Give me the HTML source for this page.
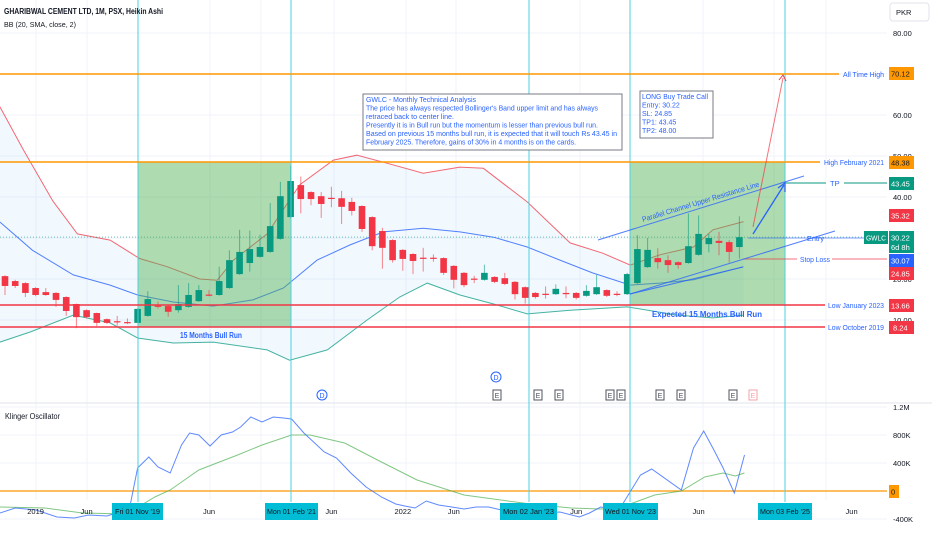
<!DOCTYPE html>
<html><head><meta charset="utf-8"><style>
html,body{margin:0;padding:0;background:#fff;width:932px;height:550px;overflow:hidden;position:relative}
svg{display:block;font-family:"Liberation Sans",sans-serif}
</style></head><body>
<svg id="chart" width="932" height="550" viewBox="0 0 932 550" xmlns="http://www.w3.org/2000/svg">
<g id="grid"></g>
<g id="bands"></g>
<g id="zones">
  <rect x="138" y="162" width="153" height="165" fill="rgba(76,175,80,0.45)" stroke="#4caf50" stroke-width="1"/>
  <rect x="630" y="162" width="155" height="143" fill="rgba(76,175,80,0.45)" stroke="#4caf50" stroke-width="1"/>
</g>
<g id="candles"></g>
<g id="annot"></g>
<g id="osc"></g>
<g id="axes"></g>
</svg>
<script>
// ---- price data (Heikin Ashi monthly, Oct 2018 .. Oct 2024) ----
const haOpen=[20.7,19.5,19.0,17.8,16.8,16.6,15.6,13.9,12.4,11.7,10.2,9.7,9.5,9.3,11.0,13.5,13.4,12.4,13.2,14.6,16.2,16.1,17.8,21.2,23.9,25.4,26.6,29.8,35.1,42.9,41.2,40.2,39.8,39.7,38.8,37.8,35.1,31.7,29.5,27.1,26.1,25.2,25.2,25.1,23.2,21.5,20.1,19.8,20.5,20.2,19.3,18.0,16.6,16.4,16.3,16.6,16.6,15.9,16.3,17.3,16.4,16.3,19.0,22.9,25.1,24.6,24.1,23.9,25.9,28.5,29.3,29.0,27.8];
const haHigh=[20.9,19.8,19.2,18.0,17.8,16.8,15.8,14.0,12.6,11.8,10.4,11.0,10.4,12.9,17.0,14.5,13.6,18.5,19.0,18.5,17.3,23.0,27.0,32.0,31.8,30.8,38.5,43.7,47.6,45.0,41.4,41.2,42.5,41.5,39.8,38.0,35.3,32.5,29.7,27.3,26.3,27.6,26.0,25.3,23.4,21.7,20.8,23.5,20.7,21.5,19.5,18.2,16.8,18.2,18.7,18.2,16.8,18.5,21.0,17.5,17.0,21.5,30.7,30.0,27.5,25.8,24.3,36.0,35.5,31.0,31.5,29.5,35.3];
const haLow=[16.1,17.8,15.6,15.8,15.9,13.2,11.0,8.0,10.4,8.5,9.0,8.6,9.0,9.2,10.8,12.8,10.8,11.8,13.0,14.4,15.8,15.9,17.6,21.0,21.8,25.2,26.4,29.6,34.8,36.0,38.0,34.9,37.5,33.4,35.5,31.5,27.0,22.5,24.0,22.0,21.2,21.8,24.2,21.0,17.7,18.0,19.0,19.6,19.0,18.5,15.0,14.0,15.2,15.2,16.1,15.3,15.0,15.7,16.1,15.6,15.8,16.1,18.8,22.7,22.5,21.5,22.5,23.7,25.7,26.5,25.8,24.0,25.0];
const haClose=[18.3,18.3,16.6,16.1,16.1,14.9,12.2,10.7,10.7,9.3,9.3,9.5,9.3,12.7,15.1,13.3,12.0,13.9,16.1,17.3,16.0,19.5,24.6,26.6,27.3,27.8,32.9,40.2,43.9,39.5,39.5,38.3,39.6,37.6,36.6,32.2,28.0,27.6,24.6,24.9,24.4,25.0,25.0,21.5,19.8,18.5,19.9,21.5,19.3,18.8,16.3,15.4,15.6,16.2,17.6,16.3,15.4,17.1,18.0,15.9,16.2,21.2,27.3,27.1,24.1,23.4,23.4,28.0,31.0,30.0,28.8,26.6,30.2];
// Bollinger bands (month index from Oct 2018, value)
const upperMonths=[-0.5,1.8,4.7,7.1,10.3,13.2,15.9,19.1,20.8,22.4,25.7,28.9,32.2,34.5,37.1,41.0,44.6,46.9,51.2,55.4,58.6,61.3,64.2,67.5,69.4,72.4];
const upperVals=[62,51.5,39,31,29.5,25,23,20,19.7,24.6,31,43,49,50.2,48.5,45.8,47.3,47,38.8,28.8,26.3,23.4,25.9,27.8,32,34];
const midMonths=[-0.5,2.7,6.7,10.3,13.0,16.5,20.4,24.3,27.3,30.6,33.8,37.1,41.0,44.6,47.9,51.2,54.4,57.6,61.3,64.2,67.5,72.4];
const midVals=[33.9,27,21,18.5,16.1,14.4,13.4,14.9,17.8,24.6,28.3,31.5,32.4,31.5,30.2,27.8,24.6,21.5,18.5,19,19.8,23];
const lowerMonths=[-0.5,2.5,6.7,10.3,13.0,16.5,20.4,25.7,27.9,31.6,35.5,38.7,41.4,44.6,47.9,51.2,55.4,61.0,65.9,69.4,72.4];
const lowerVals=[4.6,7.1,11.2,9.3,5.6,4.4,4.6,2.7,0.2,2.7,10,15.6,19,16.1,13.9,11.5,12.4,13.2,11.2,10.5,11.2];
// Klinger oscillator (thousands)
const kloMonths=[-0.5,1,3,5.1,6.8,8.2,10,11.2,12.1,13,14.1,15,16.2,17.3,18.1,19,20.1,21.2,22.3,23.1,24.1,25.2,26.3,27.3,28.1,29.3,31.3,32.5,33.9,35.4,36.9,38.3,39.2,40.2,41.3,42.5,43.8,45,46.2,47.4,49.1,50.9,52.6,54.4,56.3,57.3,58.4,59.6,60.5,62.3,63.4,66.3,67.5,68.5,69.5,70.4,71.5,72.5];
const kloVals=[-314,-243,-270,-371,-386,-343,-357,-300,-329,329,486,343,257,657,829,800,643,800,843,914,1057,986,1057,1043,1029,829,557,471,257,57,-86,-186,-214,-243,-143,-200,-229,-257,-229,-229,-286,-300,-314,-300,-371,-314,-229,-257,-200,229,314,14,614,857,586,329,-29,514];
const sigMonths=[-0.5,3.9,7.6,11.9,14.7,16.2,19,22.8,25.2,28.1,29.9,33.3,36.9,40.4,45,51.5,55.5,58.4,60.2,63.7,66.3,68.6,70.4,71.6,72.5];
const sigVals=[-229,-243,-314,-329,-86,14,300,514,657,800,800,686,414,157,-57,-186,-243,-257,-243,-57,0,200,257,214,257];
// axis labels
const priceTicks=[80,60,50,40,20,10];
const oscTicks=[1200,800,400,-400];
const oscTickLabels=["1.2M","800K","400K","-400K"];
const timeMonths=[3,8,20,32,39,44,56,68,83];
const timeLabels=["2019","Jun","Jun","Jun","2022","Jun","Jun","Jun","Jun"];

const NS="http://www.w3.org/2000/svg";
const X=m=>5+10.2*m;
const PY=p=>361-4.1*p;
const OY=v=>491-0.07*v;
function mk(parent,tag,attrs,text){const e=document.createElementNS(NS,tag);for(const k in attrs)e.setAttribute(k,attrs[k]);if(text!==undefined)e.textContent=text;parent.appendChild(e);return e;}
const G=id=>document.getElementById(id);

// grid
const grid=G('grid');
[36,87,138,210,261,334,406,456,529,580,630,703,774,826].forEach(x=>{const l=mk(grid,'line',{x1:x,y1:0,x2:x,y2:500,stroke:'#f0f3fa','stroke-width':1});

});
priceTicks.concat([30,70]).forEach(p=>{const l=mk(grid,'line',{x1:0,y1:PY(p),x2:887,y2:PY(p),stroke:'#f0f3fa','stroke-width':1});

});
oscTicks.forEach(v=>{const l=mk(grid,'line',{x1:0,y1:OY(v),x2:887,y2:OY(v),stroke:'#f0f3fa','stroke-width':1});

});

// bands
const bands=G('bands');
const pts=(ms,vs,yf)=>ms.map((m,i)=>X(m).toFixed(1)+','+yf(vs[i]).toFixed(1));
const fillPts=pts(upperMonths,upperVals,PY).concat(pts(lowerMonths,lowerVals,PY).reverse());
const fill=mk(bands,'polygon',{points:fillPts.join(' '),fill:'rgba(33,150,243,0.06)'});


const bu=mk(bands,'polyline',{points:pts(upperMonths,upperVals,PY).join(' '),fill:'none',stroke:'#f23645','stroke-width':1,'stroke-opacity':0.75});


const bm=mk(bands,'polyline',{points:pts(midMonths,midVals,PY).join(' '),fill:'none',stroke:'#2962ff','stroke-width':1,'stroke-opacity':0.8});


const bl=mk(bands,'polyline',{points:pts(lowerMonths,lowerVals,PY).join(' '),fill:'none',stroke:'#089981','stroke-width':1,'stroke-opacity':0.75});


const pl=mk(bands,'line',{x1:0,y1:PY(30.22),x2:887,y2:PY(30.22),stroke:'#089981','stroke-width':1,'stroke-dasharray':'1,2','stroke-opacity':0.6});



// candles
const cg=G('candles');
haOpen.forEach((o,i)=>{const c=haClose[i],x=X(i),col=c>=o?'#089981':'#f23645';
 const w=mk(cg,'line',{x1:x,y1:PY(haHigh[i]),x2:x,y2:PY(haLow[i]),stroke:col,'stroke-width':1,'stroke-opacity':0.6});
 
 
 const top=PY(Math.max(o,c)),h=Math.max(1.2,Math.abs(PY(o)-PY(c)));
 const b=mk(cg,'rect',{x:x-3.3,y:top,width:6.6,height:h,fill:col});
 
 
});

// klinger pane
const og=G('osc');
const sep=mk(og,'line',{x1:0,y1:403,x2:932,y2:403,stroke:'#e0e3eb','stroke-width':1});


const zl=mk(og,'line',{x1:0,y1:OY(0),x2:887,y2:OY(0),stroke:'#ff9800','stroke-width':1.2});


const sg=mk(og,'polyline',{points:pts(sigMonths,sigVals,OY).join(' '),fill:'none',stroke:'#4caf50','stroke-width':1,'stroke-opacity':0.7});


const kl=mk(og,'polyline',{points:pts(kloMonths,kloVals,OY).join(' '),fill:'none',stroke:'#2962ff','stroke-width':1,'stroke-opacity':0.75});


const kt=mk(og,'text',{x:5,y:419,'font-size':8,fill:'#131722',textLength:55,lengthAdjust:'spacingAndGlyphs'},'Klinger Oscillator');



// axes
const ax=G('axes');
priceTicks.forEach(p=>{const t=mk(ax,'text',{x:893,y:PY(p)+3,'font-size':7.5,fill:'#131722'},p.toFixed(2));

});
oscTicks.forEach((v,i)=>{const t=mk(ax,'text',{x:893,y:OY(v)+3,'font-size':7.5,fill:'#131722'},oscTickLabels[i]);

});
timeMonths.forEach((m,i)=>{const t=mk(ax,'text',{x:X(m),y:514,'font-size':7.5,fill:'#131722','text-anchor':'middle'},timeLabels[i]);

});
</script>
<svg width="932" height="550" style="position:absolute;left:0;top:0" font-family="Liberation Sans, sans-serif">
  <g stroke="#4dd0e1" stroke-width="1">
    <line x1="138" y1="0" x2="138" y2="502"/>
    <line x1="291" y1="0" x2="291" y2="502"/>
    <line x1="529" y1="0" x2="529" y2="502"/>
    <line x1="630" y1="0" x2="630" y2="502"/>
    <line x1="785" y1="0" x2="785" y2="502"/>
  </g>
  <line x1="0" y1="74" x2="839" y2="74" stroke="#ff9800" stroke-width="1.5"/>
  <text x="843" y="77" font-size="7.5" fill="#2962ff" textLength="41" lengthAdjust="spacingAndGlyphs">All Time High</text>
  <line x1="0" y1="162" x2="820" y2="162" stroke="#ff9800" stroke-width="1.5"/>
  <text x="824" y="165" font-size="7.5" fill="#2962ff" textLength="60" lengthAdjust="spacingAndGlyphs">High February 2021</text>
  <line x1="0" y1="305" x2="825" y2="305" stroke="#f23645" stroke-width="1.5"/>
  <text x="828" y="308" font-size="7.5" fill="#2962ff" textLength="56" lengthAdjust="spacingAndGlyphs">Low January 2023</text>
  <line x1="0" y1="327" x2="825" y2="327" stroke="#f23645" stroke-width="1.5"/>
  <text x="828" y="330" font-size="7.5" fill="#2962ff" textLength="56" lengthAdjust="spacingAndGlyphs">Low October 2019</text>
  <line x1="785" y1="183" x2="887" y2="183" stroke="#089981" stroke-width="1"/>
  <rect x="826" y="178" width="18" height="10" fill="#fff"/>
  <text x="830" y="186" font-size="7.5" fill="#2962ff">TP</text>
  <line x1="748" y1="238" x2="887" y2="238" stroke="#2962ff" stroke-width="1" stroke-opacity="0.6"/>
  <text x="807" y="241" font-size="7.5" fill="#2962ff" textLength="17" lengthAdjust="spacingAndGlyphs">Entry</text>
  <line x1="743" y1="259" x2="887" y2="259" stroke="#f23645" stroke-width="1" stroke-opacity="0.7"/>
  <rect x="797" y="254" width="35" height="10" fill="#fff"/>
  <text x="800" y="262" font-size="7.5" fill="#2962ff" textLength="30" lengthAdjust="spacingAndGlyphs">Stop Loss</text>
  <line x1="598" y1="240" x2="804" y2="176" stroke="#2962ff" stroke-width="1" stroke-opacity="0.8"/>
  <line x1="630" y1="294" x2="835" y2="231" stroke="#2962ff" stroke-width="1" stroke-opacity="0.8"/>
  <line x1="630" y1="294" x2="743" y2="267" stroke="#2962ff" stroke-width="1" stroke-opacity="0.8"/>
  <text x="0" y="0" font-size="7.5" fill="#2962ff" textLength="122" lengthAdjust="spacingAndGlyphs" transform="translate(643,222) rotate(-17)">Parallel Channel Upper Resistance Line</text>
  <line x1="753" y1="227" x2="783" y2="78" stroke="#f23645" stroke-width="1" stroke-opacity="0.7"/>
  <path d="M779,80 L783,75 L786,81" fill="none" stroke="#f23645" stroke-width="1"/>
  <line x1="753" y1="234" x2="784" y2="185" stroke="#2962ff" stroke-width="1.3"/>
  <path d="M778,188 L785,183 L785,192" fill="none" stroke="#2962ff" stroke-width="1.3"/>
  <text x="180" y="338" font-size="8" font-weight="bold" fill="#2962ff" textLength="62" lengthAdjust="spacingAndGlyphs">15 Months Bull Run</text>
  <text x="652" y="317" font-size="8" font-weight="bold" fill="#2962ff" textLength="110" lengthAdjust="spacingAndGlyphs">Expected 15 Months Bull Run</text>
  <g>
    <rect x="363" y="94" width="259" height="56" fill="#fff" stroke="#787b86" stroke-width="1"/>
    <g font-size="7" fill="#2962ff" lengthAdjust="spacingAndGlyphs">
      <text x="366" y="102" textLength="110" lengthAdjust="spacingAndGlyphs">GWLC - Monthly Technical Analysis</text>
      <text x="366" y="110.5" textLength="232" lengthAdjust="spacingAndGlyphs">The price has always respected Bollinger's Band upper limit and has always</text>
      <text x="366" y="119" textLength="88" lengthAdjust="spacingAndGlyphs">retraced back to center line.</text>
      <text x="366" y="127.5" textLength="232" lengthAdjust="spacingAndGlyphs">Presently it is in Bull run but the momentum is lesser than previous bull run.</text>
      <text x="366" y="136" textLength="251" lengthAdjust="spacingAndGlyphs">Based on previous 15 months bull run, it is expected that it will touch Rs 43.45 in</text>
      <text x="366" y="144.5" textLength="210" lengthAdjust="spacingAndGlyphs">February 2025. Therefore, gains of 30% in 4 months is on the cards.</text>
    </g>
  </g>
  <g>
    <rect x="640" y="91" width="73" height="47" fill="#fff" stroke="#787b86" stroke-width="1"/>
    <g font-size="7" fill="#2962ff">
      <text x="642" y="99" textLength="66" lengthAdjust="spacingAndGlyphs">LONG Buy Trade Call</text>
      <text x="642" y="107.5">Entry: 30.22</text>
      <text x="642" y="116">SL: 24.85</text>
      <text x="642" y="124.5">TP1: 43.45</text>
      <text x="642" y="133">TP2: 48.00</text>
    </g>
  </g>
  <text x="4" y="14" font-size="8" font-weight="bold" fill="#131722" textLength="159" lengthAdjust="spacingAndGlyphs">GHARIBWAL CEMENT LTD, 1M, PSX, Heikin Ashi</text>
  <text x="4" y="27" font-size="7.5" fill="#131722" textLength="72" lengthAdjust="spacingAndGlyphs">BB (20, SMA, close, 2)</text>
  <rect x="890" y="3" width="39" height="18" rx="3" fill="#fff" stroke="#e0e3eb"/>
  <text x="896" y="15" font-size="7.5" fill="#131722">PKR</text>
  <g font-size="7" text-anchor="middle">
    <g><circle cx="322" cy="395" r="5" fill="#fff" stroke="#2962ff"/><text x="322" y="398" fill="#2962ff">D</text></g>
    <g><circle cx="496" cy="377" r="5" fill="#fff" stroke="#2962ff"/><text x="496" y="380" fill="#2962ff">D</text></g>
    <g fill="#fff" stroke="#50535e">
      <rect x="493" y="390" width="8" height="10"/><rect x="534" y="390" width="8" height="10"/><rect x="555" y="390" width="8" height="10"/>
      <rect x="606" y="390" width="8" height="10"/><rect x="617" y="390" width="8" height="10"/><rect x="656" y="390" width="8" height="10"/>
      <rect x="677" y="390" width="8" height="10"/><rect x="729" y="390" width="8" height="10"/><rect x="749" y="390" width="8" height="10" stroke="#f7a1a8"/>
    </g>
    <g fill="#50535e"><text x="497" y="398">E</text><text x="538" y="398">E</text><text x="559" y="398">E</text><text x="610" y="398">E</text><text x="621" y="398">E</text><text x="660" y="398">E</text><text x="681" y="398">E</text><text x="733" y="398">E</text><text x="753" y="398" fill="#f7a1a8">E</text></g>
  </g>
  <g font-size="7.5">
    <rect x="889" y="67" width="25" height="13" fill="#ff9800"/><text x="891" y="76.5" fill="#131722">70.12</text>
    <rect x="889" y="156" width="25" height="13" fill="#ff9800"/><text x="891" y="165.5" fill="#131722">48.38</text>
    <rect x="889" y="177" width="25" height="13" fill="#089981"/><text x="891" y="186.5" fill="#fff">43.45</text>
    <rect x="889" y="209" width="25" height="13" fill="#f23645"/><text x="891" y="218.5" fill="#fff">35.32</text>
    <rect x="864" y="231" width="24" height="13" fill="#089981"/><text x="866" y="240.5" fill="#fff" textLength="20" lengthAdjust="spacingAndGlyphs">GWLC</text>
    <rect x="889" y="231" width="25" height="22" fill="#089981"/><text x="891" y="240.5" fill="#fff">30.22</text><text x="891" y="250" fill="#fff">6d 8h</text>
    <rect x="889" y="254" width="25" height="13" fill="#2962ff"/><text x="891" y="263.5" fill="#fff">30.07</text>
    <rect x="889" y="267" width="25" height="13" fill="#f23645"/><text x="891" y="276.5" fill="#fff">24.85</text>
    <rect x="889" y="299" width="25" height="13" fill="#f23645"/><text x="891" y="308.5" fill="#fff">13.66</text>
    <rect x="889" y="321" width="25" height="13" fill="#f23645"/><text x="893" y="330.5" fill="#fff">8.24</text>
    <rect x="889" y="485" width="10" height="13" fill="#ff9800"/><text x="891" y="494.5" fill="#131722">0</text>
  </g>
  <g font-size="7" fill="#131722">
    <rect x="112" y="503" width="51" height="17" fill="#00bcd4"/><text x="115" y="514" textLength="45" lengthAdjust="spacingAndGlyphs">Fri 01 Nov '19</text>
    <rect x="265" y="503" width="53" height="17" fill="#00bcd4"/><text x="267" y="514" textLength="49" lengthAdjust="spacingAndGlyphs">Mon 01 Feb '21</text>
    <rect x="500" y="503" width="57" height="17" fill="#00bcd4"/><text x="503" y="514" textLength="51" lengthAdjust="spacingAndGlyphs">Mon 02 Jan '23</text>
    <rect x="603" y="503" width="55" height="17" fill="#00bcd4"/><text x="605" y="514" textLength="51" lengthAdjust="spacingAndGlyphs">Wed 01 Nov '23</text>
    <rect x="758" y="503" width="54" height="17" fill="#00bcd4"/><text x="760" y="514" textLength="50" lengthAdjust="spacingAndGlyphs">Mon 03 Feb '25</text>
  </g>
</svg>
</body></html>
